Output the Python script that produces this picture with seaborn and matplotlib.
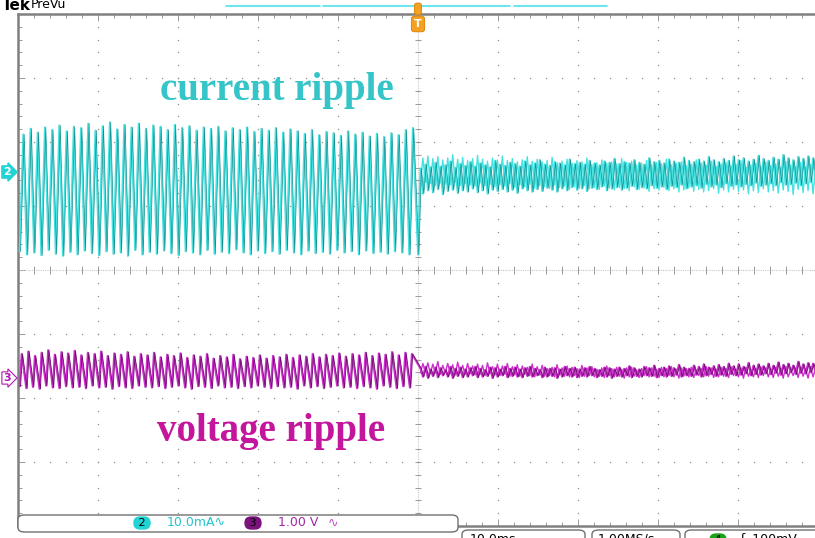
import numpy as np
import pandas as pd
import matplotlib
matplotlib.use("Agg")
import matplotlib.pyplot as plt
import seaborn as sns
from matplotlib.patches import FancyBboxPatch
from matplotlib.lines import Line2D

# ---------------- data ----------------
ch2_scale_mA = 10.0      # mA per division
ch3_scale_V = 1.0        # V per division
ch2_ref_div = 1.53       # ground marker of channel 2 (divisions from centre)
ch3_ref_div = -1.69      # ground marker of channel 3
time_window_ms = [-50.0, 50.0]

# current ripple before trigger: per-cycle peaks / troughs (mA)
cur_pre_peaks = [5.9, 6.8, 6.2, 7.0, 6.6, 7.3, 6.4, 7.1, 6.9, 7.6,
                 6.5, 7.2, 7.8, 6.7, 7.4, 7.0, 7.6, 6.8, 7.3, 7.1,
                 6.6, 7.4, 6.9, 7.2, 6.5, 7.0, 6.8, 7.1, 6.4, 6.9,
                 6.6, 7.0, 6.3, 6.8, 6.5, 6.9, 6.2, 6.7, 6.4, 6.0,
                 6.6, 5.8, 6.3, 6.1, 5.7, 6.4, 5.9, 6.2, 5.6, 6.0,
                 5.5, 6.1, 5.8, 6.6, 6.9]
cur_pre_troughs = [-12.4, -12.9, -12.6, -13.0, -12.2, -12.8, -13.1, -12.5, -12.9, -12.3,
                   -12.7, -13.0, -12.4, -12.8, -12.6, -13.1, -12.2, -12.9, -12.5, -12.8,
                   -12.3, -12.7, -13.0, -12.4, -12.6, -12.9, -12.2, -12.8, -12.5, -12.7,
                   -12.1, -12.6, -12.9, -12.3, -12.7, -12.4, -12.8, -12.2, -12.6, -12.9,
                   -12.3, -12.7, -12.5, -12.8, -12.2, -12.6, -12.4, -12.9, -12.3, -12.7,
                   -12.5, -12.8, -12.4, -12.6, -12.9]
# current after trigger: upper / lower edge of the noise band (mA)
cur_post_hi = [0.6, 1.2, 0.8, 1.5, 0.9, 1.1, 1.7, 0.7, 1.3, 1.0,
               1.6, 0.9, 1.4, 1.1, 0.8, 1.8, 1.2, 1.0, 1.5, 1.3,
               0.9, 1.7, 1.1, 1.4, 1.9, 1.2, 1.0, 1.6, 1.4, 1.1,
               2.0, 1.3, 1.5, 1.2, 1.8, 1.4, 1.1, 1.7, 1.5, 2.1,
               1.3, 1.6, 1.4, 1.9, 1.5, 1.2, 2.2, 1.6, 1.8, 1.4,
               2.0, 1.7, 1.5, 2.3, 1.8, 1.6, 2.0, 1.7, 2.4, 1.9,
               1.6, 2.1, 1.8, 2.5, 1.9, 2.2, 1.7, 2.0, 2.6, 2.1,
               1.8, 2.3, 2.0, 2.7, 2.2, 1.9, 2.4, 2.1, 2.5, 2.2]
cur_post_lo = [-3.4, -2.9, -3.2, -2.7, -3.5, -3.0, -2.8, -3.3, -2.9, -3.1,
               -2.6, -3.2, -2.9, -3.4, -2.8, -3.0, -2.7, -3.1, -2.8, -3.3,
               -2.6, -2.9, -3.1, -2.7, -3.0, -2.5, -2.8, -3.1, -2.6, -2.9,
               -2.4, -2.8, -2.6, -3.0, -2.5, -2.7, -2.3, -2.9, -2.6, -2.4,
               -2.8, -2.5, -2.2, -2.7, -2.4, -2.6, -2.1, -2.5, -2.3, -2.7,
               -2.2, -2.4, -2.0, -2.6, -2.3, -2.1, -2.5, -1.9, -2.3, -2.0,
               -2.4, -1.8, -2.2, -2.0, -2.3, -1.9, -2.1, -1.7, -2.2, -2.0,
               -1.8, -2.1, -1.6, -2.0, -1.9, -1.7, -2.1, -1.8, -1.6, -1.9]

# voltage ripple before trigger: per-cycle peaks / troughs (V)
volt_pre_peaks = [0.38, 0.42, 0.35, 0.40, 0.44, 0.37, 0.41, 0.39, 0.43, 0.36,
                  0.40, 0.38, 0.42, 0.35, 0.39, 0.37, 0.41, 0.34, 0.38, 0.36,
                  0.40, 0.33, 0.37, 0.35, 0.39, 0.32, 0.36, 0.34, 0.38, 0.31,
                  0.35, 0.33, 0.37, 0.30, 0.34, 0.32, 0.36, 0.31, 0.35, 0.33,
                  0.37, 0.32, 0.36, 0.34, 0.38, 0.33, 0.37, 0.35, 0.39, 0.34,
                  0.38, 0.36, 0.40, 0.35, 0.39, 0.37, 0.41, 0.36, 0.40, 0.38]
volt_pre_troughs = [-0.13, -0.16, -0.14, -0.17, -0.12, -0.15, -0.16, -0.13, -0.15, -0.14,
                    -0.16, -0.12, -0.15, -0.14, -0.17, -0.13, -0.15, -0.16, -0.12, -0.14,
                    -0.15, -0.13, -0.16, -0.14, -0.12, -0.15, -0.17, -0.13, -0.14, -0.16,
                    -0.12, -0.15, -0.14, -0.16, -0.13, -0.15, -0.12, -0.14, -0.16, -0.13,
                    -0.15, -0.14, -0.17, -0.12, -0.15, -0.13, -0.16, -0.14, -0.12, -0.15,
                    -0.14, -0.16, -0.13, -0.15, -0.17, -0.12, -0.14, -0.16, -0.13, -0.15]
# voltage after trigger: noise band edges (V)
volt_post_hi = [0.15, 0.18, 0.14, 0.17, 0.16, 0.13, 0.18, 0.15, 0.17, 0.14,
                0.16, 0.18, 0.15, 0.13, 0.17, 0.16, 0.14, 0.18, 0.15, 0.17,
                0.14, 0.16, 0.18, 0.15, 0.13, 0.17, 0.15, 0.16, 0.14, 0.18,
                0.15, 0.17, 0.14, 0.16, 0.18, 0.15, 0.13, 0.17, 0.16, 0.14,
                0.17, 0.15, 0.19, 0.16, 0.14, 0.18, 0.16, 0.20, 0.15, 0.17,
                0.19, 0.16, 0.21, 0.17, 0.15, 0.20, 0.18, 0.22, 0.17, 0.19,
                0.21, 0.18, 0.23, 0.19, 0.22, 0.18, 0.24, 0.20, 0.22, 0.19,
                0.23, 0.20, 0.25, 0.21, 0.23, 0.20, 0.26, 0.22, 0.24, 0.23]
volt_post_lo = [0.02, 0.00, 0.03, 0.01, 0.04, 0.02, 0.00, 0.03, 0.01, 0.02,
                0.04, 0.01, 0.02, 0.03, 0.00, 0.02, 0.04, 0.01, 0.03, 0.02,
                0.01, 0.03, 0.02, 0.04, 0.01, 0.02, 0.03, 0.00, 0.02, 0.04,
                0.02, 0.01, 0.03, 0.02, 0.04, 0.01, 0.03, 0.02, 0.00, 0.03,
                0.02, 0.04, 0.01, 0.03, 0.02, 0.04, 0.03, 0.01, 0.04, 0.02,
                0.03, 0.05, 0.02, 0.04, 0.03, 0.05, 0.02, 0.04, 0.06, 0.03,
                0.05, 0.03, 0.06, 0.04, 0.05, 0.07, 0.04, 0.06, 0.05, 0.07,
                0.06, 0.08, 0.05, 0.07, 0.09, 0.06, 0.08, 0.07, 0.09, 0.08]

label_current = "current ripple"
label_voltage = "voltage ripple"
readout_ch2 = "10.0mA"
readout_ch3 = "1.00 V"
readout_time = "10.0ms"
readout_rate = "1.00MS/s"
readout_trig = "ʃ  100mV"

# ---------------- build traces ----------------
def cycles(peaks, troughs, t0, t1, rise):
    n = len(peaks)
    p = (t1 - t0) / n
    t, y = [], []
    for k in range(n):
        t += [t0 + k * p, t0 + (k + rise) * p]
        y += [troughs[k], peaks[k]]
    return t, y


def band(hi, lo, t0, t1, swap=False):
    n = len(hi)
    s = (t1 - t0) / (2 * n)
    t, y = [], []
    for i in range(n):
        t += [t0 + 2 * i * s, t0 + (2 * i + 1) * s]
        y += [lo[i], hi[i]] if swap else [hi[i], lo[i]]
    return t, y


t_a, y_a = cycles(cur_pre_peaks, cur_pre_troughs, -49.8, -0.2, 0.5)
t_b, y_b = band(cur_post_hi, cur_post_lo, 0.3, 50.0)
t_b2, y_b2 = band(cur_post_hi[::-1], cur_post_lo[::-1], 0.3, 50.0, swap=True)
cur = pd.DataFrame({"t": t_a + [0.0] + t_b,
                    "v": y_a + [cur_pre_troughs[-1]] + y_b})
cur["div"] = ch2_ref_div + cur["v"] / ch2_scale_mA
cur2 = pd.DataFrame({"t": t_b2, "v": y_b2})
cur2["div"] = ch2_ref_div + cur2["v"] / ch2_scale_mA
cur_dark = cur.copy()
cur_dark["t"] = cur_dark["t"] + 0.12

t_c, y_c = cycles(volt_pre_peaks, volt_pre_troughs, -49.8, -0.2, 0.3)
t_d, y_d = band(volt_post_hi, volt_post_lo, 0.3, 50.0)
t_d2, y_d2 = band(volt_post_hi[::-1], volt_post_lo[::-1], 0.3, 50.0, swap=True)
volt = pd.DataFrame({"t": t_c + t_d, "v": y_c + y_d})
volt["div"] = ch3_ref_div + volt["v"] / ch3_scale_V
volt2 = pd.DataFrame({"t": t_d2, "v": y_d2})
volt2["div"] = ch3_ref_div + volt2["v"] / ch3_scale_V
volt_dark = volt.copy()
volt_dark["t"] = volt_dark["t"] + 0.12

# ---------------- figure ----------------
sns.set_style("white")
plt.rcParams["font.family"] = ["DejaVu Sans"]
W, H = 815, 538
fig = plt.figure(figsize=(W / 100, H / 100), dpi=100)
fig.patch.set_facecolor("white")

def fx(px):
    return px / W

def fy(py):
    return 1 - py / H

ax = fig.add_axes([fx(18), 12 / H, 800 / W, 512 / H])
ax.set_xlim(*time_window_ms)
ax.set_ylim(-4, 4)
ax.set_facecolor("white")

GRID = "#9a9a9a"
DOT = "#8f8f8f"
# dotted graticule
for xv in np.arange(-40, 41, 10):
    if xv == 0:
        continue
    yy = np.arange(-4, 4.01, 0.2)
    ax.plot(np.full_like(yy, xv), yy, ls="none", marker="s", ms=0.9,
            mew=0, color=DOT, zorder=1)
for yv in np.arange(-3, 4, 1):
    if yv == 0:
        continue
    xx = np.arange(-50, 50.01, 2)
    ax.plot(xx, np.full_like(xx, yv, dtype=float), ls="none", marker="s",
            ms=0.9, mew=0, color=DOT, zorder=1)
# centre cross-hair with minor ticks
ax.axhline(0, color="#c8c8c8", lw=0.8, ls=(0, (1, 1)), zorder=1)
ax.axvline(0, color="#c8c8c8", lw=0.8, ls=(0, (1, 1)), zorder=1)
ax.vlines(np.arange(-50, 50.01, 2), -0.06, 0.06, color=GRID, lw=0.7, zorder=1)
ax.hlines(np.arange(-4, 4.01, 0.2), -0.4, 0.4, color=GRID, lw=0.7, zorder=1)

ax.set_xticks(np.arange(-50, 51, 10))
ax.set_xticks(np.arange(-50, 51, 2), minor=True)
ax.set_yticks(np.arange(-4, 5, 1))
ax.set_yticks(np.arange(-4, 4.01, 0.2), minor=True)
ax.tick_params(which="both", direction="in", top=True, bottom=True, left=True,
               right=False, labelbottom=False, labelleft=False, color=GRID,
               width=0.7)
ax.tick_params(which="major", length=5)
ax.tick_params(which="minor", length=3)
for side, sp in ax.spines.items():
    sp.set_color("#808080")
    sp.set_linewidth(1.8)
ax.spines["right"].set_visible(False)

# traces
sns.lineplot(data=cur, x="t", y="div", sort=False, estimator=None,
             color="#45e2e2", lw=1.3, ax=ax, zorder=3)
sns.lineplot(data=cur2, x="t", y="div", sort=False, estimator=None,
             color="#45e2e2", lw=1.0, ax=ax, zorder=3)
sns.lineplot(data=cur_dark, x="t", y="div", sort=False, estimator=None,
             color="#168f8f", lw=0.5, ax=ax, zorder=4)
sns.lineplot(data=volt, x="t", y="div", sort=False, estimator=None,
             color="#cc30cc", lw=1.3, ax=ax, zorder=3)
sns.lineplot(data=volt2, x="t", y="div", sort=False, estimator=None,
             color="#cc30cc", lw=1.0, ax=ax, zorder=3)
sns.lineplot(data=volt_dark, x="t", y="div", sort=False, estimator=None,
             color="#700a70", lw=0.6, ax=ax, zorder=4)
ax.set_xlabel("")
ax.set_ylabel("")

# annotation labels
ax.text(-17.7, 2.81, label_current, ha="center", va="center",
        family=["Liberation Serif", "DejaVu Serif"], weight="bold",
        fontsize=28, color="#35c4c8", zorder=6)
ax.text(-18.4, -2.53, label_voltage, ha="center", va="center",
        family=["Liberation Serif", "DejaVu Serif"], weight="bold",
        fontsize=28, color="#c4169c", zorder=6)

# ---------------- screen furniture ----------------
fig.text(fx(2), fy(6), "Tek", ha="left", va="center", fontsize=11,
         weight="bold", color="black")
fig.text(fx(31), fy(5), "PreVu", ha="left", va="center", fontsize=9,
         color="black")

for a, b in [(226, 320), (323, 510), (514, 607)]:
    fig.add_artist(Line2D([fx(a), fx(b)], [fy(6), fy(6)], color="#4fe3ea",
                          lw=1.2, transform=fig.transFigure))

ORANGE = "#f4a020"
fig.add_artist(FancyBboxPatch((fx(414.5), fy(15)), 7 / W, 12 / H,
                              boxstyle="round,pad=0,rounding_size=0.004",
                              fc=ORANGE, ec="#d88000", lw=0.6,
                              transform=fig.transFigure, zorder=5))
fig.text(fx(418), fy(24), "T", ha="center", va="center", fontsize=8,
         weight="bold", color="white",
         bbox=dict(boxstyle="round,pad=0.25", fc=ORANGE, ec="#d88000", lw=0.6))

fig.text(fx(3), fy(172), "2", ha="left", va="center", fontsize=8,
         weight="bold", color="white",
         bbox=dict(boxstyle="rarrow,pad=0.1", fc="#22d3d6", ec="#22d3d6"))
fig.text(fx(3), fy(378), "3", ha="left", va="center", fontsize=8,
         weight="bold", color="#b01ab0",
         bbox=dict(boxstyle="rarrow,pad=0.1", fc="white", ec="#b01ab0", lw=0.8))

# status bar
fig.add_artist(FancyBboxPatch((fx(18), fy(532)), 440 / W, 17 / H,
                              boxstyle="round,pad=0,rounding_size=0.008",
                              fc="white", ec="#707070", lw=1.0,
                              transform=fig.transFigure, zorder=5))
fig.text(fx(142), fy(523), " 2 ", ha="center", va="center", fontsize=8,
         color="black", zorder=7,
         bbox=dict(boxstyle="round,pad=0.15,rounding_size=0.6", fc="#22d3d6", ec="none"))
fig.text(fx(167), fy(523), readout_ch2 + "∿", ha="left", va="center",
         fontsize=9, color="#22c6cc", zorder=7)
fig.text(fx(253), fy(523), " 3 ", ha="center", va="center", fontsize=8,
         color="black", zorder=7,
         bbox=dict(boxstyle="round,pad=0.15,rounding_size=0.6", fc="#7c127c", ec="none"))
fig.text(fx(278), fy(523), readout_ch3, ha="left", va="center",
         fontsize=9, color="#a626a6", zorder=7)
fig.text(fx(328), fy(523), "∿", ha="left", va="center",
         fontsize=9, color="#c050c0", zorder=7)

for a, b in [(462, 585), (592, 680), (685, 830)]:
    fig.add_artist(FancyBboxPatch((fx(a), fy(548)), (b - a) / W, 18 / H,
                                  boxstyle="round,pad=0,rounding_size=0.008",
                                  fc="white", ec="#707070", lw=1.0,
                                  transform=fig.transFigure, zorder=5))
fig.text(fx(470), fy(533), readout_time, ha="left", va="top", fontsize=9,
         color="black", zorder=7)
fig.text(fx(598), fy(533), readout_rate, ha="left", va="top", fontsize=9,
         color="black", zorder=7)
fig.text(fx(718), fy(540), " 4 ", ha="center", va="center", fontsize=8,
         color="black", zorder=7,
         bbox=dict(boxstyle="round,pad=0.15,rounding_size=0.6", fc="#1aa31a", ec="none"))
fig.text(fx(740), fy(533), readout_trig, ha="left", va="top", fontsize=9,
         color="black", zorder=7)

fig.savefig("out.png", dpi=100, facecolor="white")
